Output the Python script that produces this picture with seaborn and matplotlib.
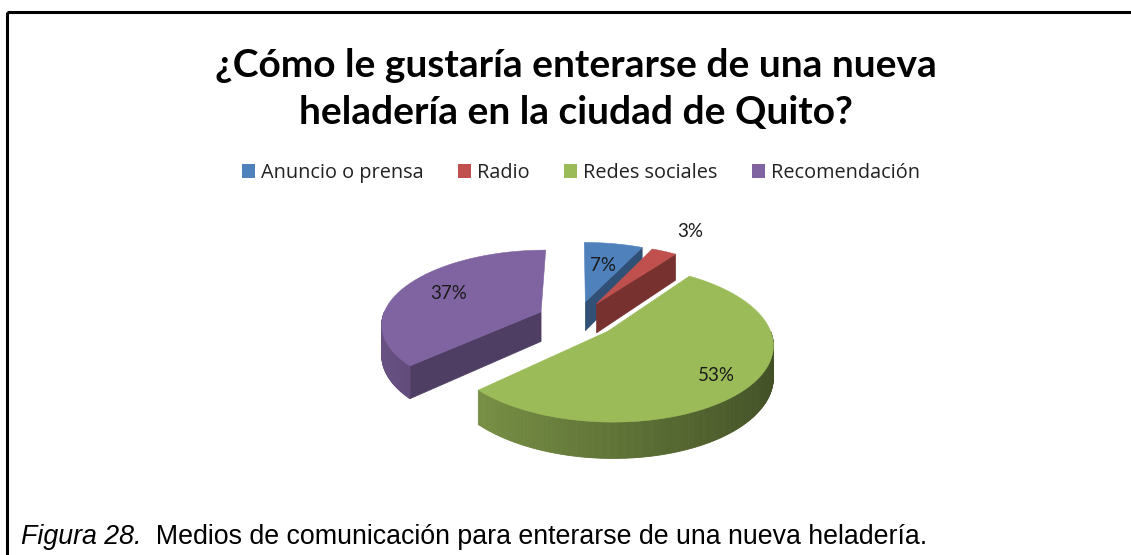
import numpy as np
import matplotlib
matplotlib.use("Agg")
import matplotlib.pyplot as plt
import seaborn as sns
from matplotlib.patches import Patch

# ---- data -------------------------------------------------------------
categories = ["Anuncio o prensa", "Radio", "Redes sociales", "Recomendación"]
shares = [7, 3, 53, 37]
value_labels = ["7%", "3%", "53%", "37%"]

title = "¿Cómo le gustaría enterarse de una nueva\nheladería en la ciudad de Quito?"
caption_lead = "Figura 28."
caption_text = "  Medios de comunicación para enterarse de una nueva heladería."

# ---- style ------------------------------------------------------------
sns.set_theme(style="white")
palette = sns.color_palette(["#4F81BD", "#C0504D", "#9BBB59", "#8064A2"])
plt.rcParams["font.family"] = ["Lato", "DejaVu Sans"]

W, H = 1131, 555
fig = plt.figure(figsize=(W / 100, H / 100), dpi=100)
ax = fig.add_axes([0, 0, 1, 1])
ax.set_xlim(0, W)
ax.set_ylim(H, 0)
ax.axis("off")

# frame of the figure box
ax.plot([7, W], [12, 12], color="black", lw=2.2, solid_capstyle="butt")
ax.plot([7, 7], [12, H], color="black", lw=2.2, solid_capstyle="butt")

# ---- tilted, exploded 3-D pie ----------------------------------------
CX, CY, RX, RY = 577, 319, 159, 73
PERSP, DEPTH, EXPLODE = 0.15, 30, 0.25
label_radius = [0.6, 1.45, 0.8, 0.68]


def project(u, v, h=0.0):
    s = 1.0 / (1.0 + PERSP * v)
    return CX + RX * u * s, CY - RY * v * s + DEPTH * h * s


def shade(color, k):
    return tuple(min(1.0, c * k) for c in color)


fractions = np.array(shares, dtype=float) / np.sum(shares)
bounds = 90.0 - 360.0 * np.concatenate([[0.0], np.cumsum(fractions)])

slices = []
for i in range(len(categories)):
    a_hi, a_lo = bounds[i], bounds[i + 1]
    mid = np.deg2rad((a_hi + a_lo) / 2)
    off = (EXPLODE * np.cos(mid), EXPLODE * np.sin(mid))
    slices.append((i, a_lo, a_hi, mid, off))

# paint far slices first
for i, a_lo, a_hi, mid, off in sorted(slices, key=lambda t: -t[4][1]):
    base = palette[i]
    ou, ov = off

    def rim(theta, h=0.0, r=1.0):
        return project(ou + r * np.cos(theta), ov + r * np.sin(theta), h)

    # radial cut faces
    for ang, visible in ((a_lo, np.cos(np.deg2rad(a_lo)) > 1e-9),
                         (a_hi, np.cos(np.deg2rad(a_hi)) < -1e-9)):
        if visible:
            t = np.deg2rad(ang)
            pts = [project(ou, ov, 0), rim(t, 0), rim(t, 1), project(ou, ov, 1)]
            xs, ys = zip(*pts)
            c = shade(base, 0.62)
            ax.fill(xs, ys, color=c, ec=c, lw=0.5)

    # outer wall on the front half, shaded along the arc
    thetas = np.deg2rad(np.linspace(a_lo, a_hi, 240))
    for t0, t1 in zip(thetas[:-1], thetas[1:]):
        tm = 0.5 * (t0 + t1)
        if np.sin(tm) < 0:
            pts = [rim(t0, 0), rim(t1, 0), rim(t1, 1), rim(t0, 1)]
            xs, ys = zip(*pts)
            c = shade(base, 0.62 - 0.2 * np.cos(tm))
            ax.fill(xs, ys, color=c, ec=c, lw=0.6)

    # top face
    arc = [rim(t, 0) for t in thetas]
    xs, ys = zip(*([project(ou, ov, 0)] + arc))
    ax.fill(xs, ys, color=base, ec=base, lw=0.4)

    # value label
    lx, ly = project(ou + label_radius[i] * np.cos(mid),
                     ov + label_radius[i] * np.sin(mid), 0)
    ax.text(lx, ly, value_labels[i], ha="center", va="center",
            fontsize=13.5, color="#1a1a1a")

# ---- title, legend, caption -----------------------------------------
ax.text(576, 89, title, ha="center", va="center", fontsize=28,
        fontweight="bold", color="black", linespacing=1.42)

handles = [Patch(facecolor=palette[i], edgecolor="none") for i in range(len(categories))]
ax.legend(handles, categories, ncol=4, loc="center", bbox_to_anchor=(581 / W, 1 - 173 / H),
          frameon=False, prop={"family": ["Open Sans"], "size": 14.3},
          handlelength=0.65, handleheight=0.65,
          handletextpad=0.3, columnspacing=1.75, labelcolor="#222222")

t1 = ax.text(21, 537, caption_lead, ha="left", va="center", fontsize=19.3,
             fontstyle="italic", family=["Liberation Sans"], color="black")
ax.annotate(caption_text, xy=(1, 0), xycoords=t1, ha="left", va="bottom",
            fontsize=19.3, family=["Liberation Sans"], color="black")

fig.savefig("out.png", dpi=100, facecolor="white")
